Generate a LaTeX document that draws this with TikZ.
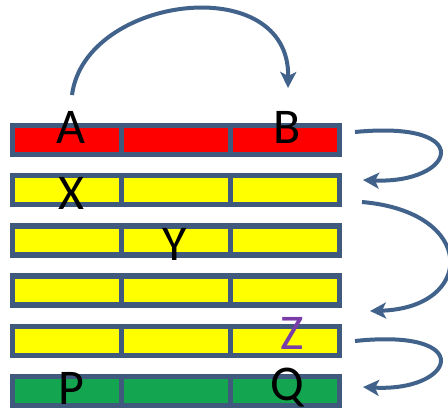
\documentclass[tikz,border=0pt]{standalone}
\usepackage{fontspec}
\setmainfont{Carlito}
\usetikzlibrary{arrows.meta}
\definecolor{bord}{HTML}{3F5A7C}
\definecolor{arr}{HTML}{41638B}
\definecolor{cred}{HTML}{FF0000}
\definecolor{cyel}{HTML}{FFFF00}
\definecolor{cgrn}{HTML}{14A550}
\definecolor{zpur}{HTML}{7A3DA8}
\tikzset{
  cell/.style={draw=bord, line width=5.5pt, minimum width=109pt, minimum height=29pt, inner sep=0pt, outer sep=0pt},
  lbl/.style={font=\fontsize{50}{50}\selectfont, inner sep=0pt, text=black},
  flow/.style={draw=arr, line width=4pt, -{Stealth[length=16pt,width=16pt,inset=4pt]}},
}
\begin{document}
\begin{tikzpicture}[x=1pt,y=-1pt]
\useasboundingbox (0,0) rectangle (448,414);
\fill[white] (0,0) rectangle (448,414);
% rows
\foreach \r/\c in {1/cred,2/cyel,3/cyel,4/cyel,5/cyel,6/cgrn}{
  \foreach \k in {1,2,3}{
    \node[cell, fill=\c] (c\r\k) at ({12.5+54.5+109*(\k-1)}, {140+50.2*(\r-1)}) {};
  }
}
% labels
\node[lbl] (A) at (71,127) {A};
\node[lbl] (B) at (287,127) {B};
\node[lbl] (X) at (71,193) {X};
\node[lbl] (Y) at (175,244) {Y};
\node[lbl, text=zpur] (Z) at (292,333) {Z};
\node[lbl] (P) at (71,388) {P};
\node[lbl] (Q) at (287,388) {Q};
% arrow anchors
\coordinate (a0) at (72,95);
\coordinate (b0) at (288,88);
\coordinate (r1s) at (355,132);
\coordinate (r1e) at (363,180);
\coordinate (r2s) at (362,202);
\coordinate (r2e) at (370,311);
\coordinate (r3s) at (355,341);
\coordinate (r3e) at (363,387);
% arrows
\draw[flow] (a0) .. controls (85,-5) and (290,-30) .. (b0);
\draw[flow] (r1s) .. controls (478,120) and (455,184) .. (r1e);
\draw[flow] (r2s) .. controls (478,212) and (475,308) .. (r2e);
\draw[flow] (r3s) .. controls (478,328) and (455,392) .. (r3e);
\end{tikzpicture}
\end{document}
